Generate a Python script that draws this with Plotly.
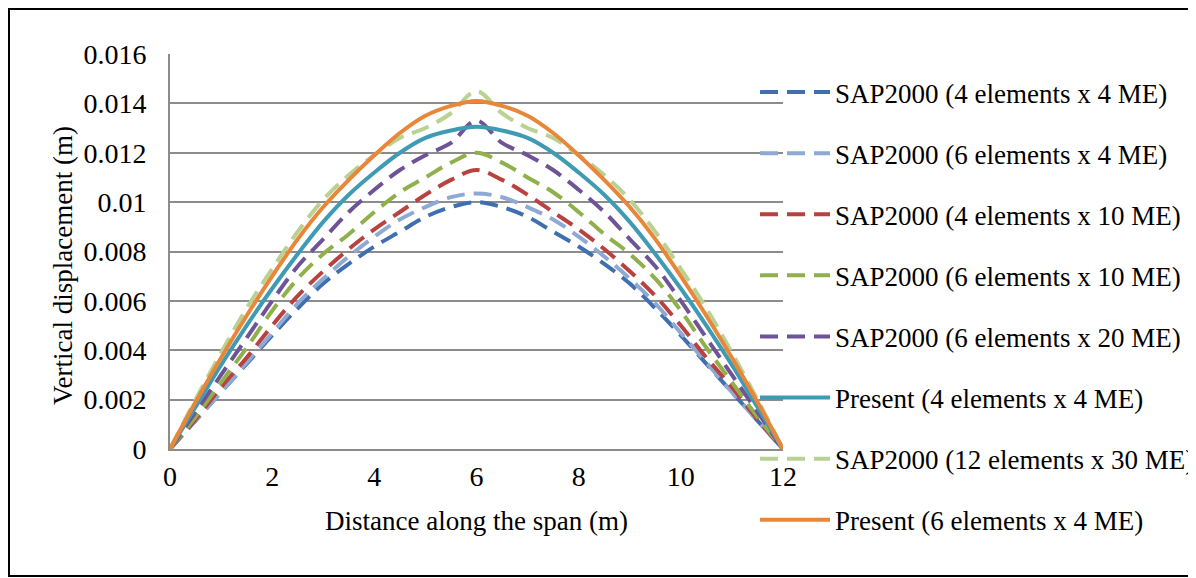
import plotly.graph_objects as go

# Distance along the span (m)
x_m = [0, 0.5, 1, 1.5, 2, 2.5, 3, 3.5, 4, 4.5, 5, 5.5, 6,
       6.5, 7, 7.5, 8, 8.5, 9, 9.5, 10, 10.5, 11, 11.5, 12]

sap_4e_4me = [0, 0.00115, 0.0023, 0.00345, 0.0046, 0.0057, 0.0067, 0.0075, 0.0082, 0.0088, 0.0094, 0.0098, 0.0100,
              0.0098, 0.0094, 0.0088, 0.0082, 0.0075, 0.0067, 0.0057, 0.0046, 0.00345, 0.0023, 0.00115, 0]
sap_6e_4me = [0, 0.00115, 0.0023, 0.0035, 0.0047, 0.0059, 0.0069, 0.0078, 0.0086, 0.0093, 0.0098, 0.0102, 0.01035,
              0.0102, 0.0098, 0.0093, 0.0086, 0.0078, 0.0069, 0.0059, 0.0047, 0.0035, 0.0023, 0.00115, 0]
sap_4e_10me = [0, 0.0012, 0.0025, 0.0037, 0.0050, 0.0062, 0.0072, 0.0081, 0.0089, 0.0096, 0.0103, 0.0109, 0.0113,
               0.0109, 0.0103, 0.0096, 0.0089, 0.0081, 0.0072, 0.0062, 0.0050, 0.0037, 0.0025, 0.0012, 0]
sap_6e_10me = [0, 0.0013, 0.0027, 0.0041, 0.0056, 0.0069, 0.0079, 0.0087, 0.0096, 0.0104, 0.0110, 0.0116, 0.0120,
               0.0116, 0.0110, 0.0104, 0.0096, 0.0087, 0.0079, 0.0069, 0.0056, 0.0041, 0.0027, 0.0013, 0]
sap_6e_20me = [0, 0.0015, 0.0030, 0.0045, 0.0060, 0.0074, 0.0085, 0.0096, 0.0105, 0.0113, 0.0119, 0.0124, 0.0133,
               0.0124, 0.0119, 0.0113, 0.0105, 0.0096, 0.0085, 0.0074, 0.0060, 0.0045, 0.0030, 0.0015, 0]
present_4e_4me = [0, 0.0017, 0.0034, 0.0050, 0.0065, 0.0079, 0.0092, 0.0103, 0.0112, 0.0120, 0.0126, 0.0129, 0.01305,
                  0.0129, 0.0126, 0.0120, 0.0112, 0.0103, 0.0092, 0.0079, 0.0065, 0.0050, 0.0034, 0.0017, 0]
sap_12e_30me = [0, 0.0020, 0.0039, 0.0057, 0.0073, 0.0088, 0.0101, 0.0111, 0.0119, 0.0126, 0.0130, 0.0136, 0.0145,
                0.0136, 0.0130, 0.0126, 0.0119, 0.0111, 0.0101, 0.0088, 0.0073, 0.0057, 0.0039, 0.0020, 0]
present_6e_4me = [0, 0.0019, 0.0037, 0.0054, 0.0070, 0.0085, 0.0098, 0.0109, 0.0119, 0.0128, 0.0135, 0.0139, 0.0141,
                  0.0139, 0.0135, 0.0128, 0.0119, 0.0109, 0.0098, 0.0085, 0.0070, 0.0054, 0.0037, 0.0019, 0]

series_names = [
    "SAP2000 (4 elements x 4 ME)",
    "SAP2000 (6 elements x 4 ME)",
    "SAP2000 (4 elements x 10 ME)",
    "SAP2000 (6 elements x 10 ME)",
    "SAP2000 (6 elements x 20 ME)",
    "Present (4 elements x 4 ME)",
    "SAP2000 (12 elements x 30 ME)",
    "Present (6 elements x 4 ME)",
]
series_values = [sap_4e_4me, sap_6e_4me, sap_4e_10me, sap_6e_10me,
                 sap_6e_20me, present_4e_4me, sap_12e_30me, present_6e_4me]
series_colors = ["#3F6FAE", "#8EA9D3", "#B8423F", "#8FB04A",
                 "#6E5497", "#3F9BB4", "#B9D291", "#E8873A"]
series_dash = ["18px,9px", "18px,9px", "18px,9px", "18px,9px",
               "18px,9px", "solid", "18px,9px", "solid"]

y_tickvals = [0, 0.002, 0.004, 0.006, 0.008, 0.010, 0.012, 0.014, 0.016]
y_ticktext = ["0", "0.002", "0.004", "0.006", "0.008", "0.01", "0.012", "0.014", "0.016"]
x_tickvals = [0, 2, 4, 6, 8, 10, 12]

FONT = "Liberation Serif, Times New Roman, serif"
FS = 27
TFS = 28

fig = go.Figure()
for i, (name, vals, col, dash) in enumerate(zip(series_names, series_values, series_colors, series_dash)):
    fig.add_trace(go.Scatter(
        x=x_m, y=vals, mode="lines", name=name, legendgroup=f"g{i}",
        line=dict(color=col, width=4, dash=dash, shape="spline", smoothing=1.0),
    ))

# page offset (browser body margin)
OFF = 8
W, H = 1188, 570
L, T = 170 - OFF, 54 - OFF
pw, ph = 783 - 170, 449 - 54
R = W - L - pw
B = H - T - ph

def px(xpage):
    return (xpage - OFF - L) / pw

def py(ypage):
    return (T + ph - (ypage - OFF)) / ph

fig.update_layout(
    width=W, height=H,
    margin=dict(l=L, r=R, t=T, b=B, pad=0, autoexpand=False),
    paper_bgcolor="white", plot_bgcolor="white",
    font=dict(family=FONT, size=FS, color="black"),
    showlegend=True,
    legend=dict(
        x=px(755), y=py(68), xanchor="left", yanchor="top",
        bgcolor="rgba(0,0,0,0)", font=dict(family=FONT, size=FS, color="black"),
        tracegroupgap=23, itemwidth=70, traceorder="grouped", maxheight=560,
    ),
    xaxis=dict(
        range=[0, 12], tickvals=x_tickvals, showgrid=False, zeroline=False,
        showline=True, linecolor="#8C8C8C", linewidth=2,
        ticks="outside", ticklen=1, tickcolor="rgba(0,0,0,0)",
        tickfont=dict(family=FONT, size=TFS, color="black"),
    ),
    yaxis=dict(
        range=[0, 0.016], tickvals=y_tickvals, ticktext=y_ticktext,
        showgrid=True, gridcolor="#8C8C8C", gridwidth=2, zeroline=False,
        showline=True, linecolor="#8C8C8C", linewidth=2,
        ticks="outside", ticklen=16, tickcolor="rgba(0,0,0,0)",
        tickfont=dict(family=FONT, size=TFS, color="black"),
    ),
    annotations=[
        dict(text="Vertical displacement (m)", xref="paper", yref="paper",
             x=px(63), y=py(266), textangle=-90, showarrow=False,
             font=dict(family=FONT, size=FS, color="black"),
             xanchor="center", yanchor="middle"),
        dict(text="Distance along the span (m)", xref="paper", yref="paper",
             x=px(476), y=py(521), showarrow=False,
             font=dict(family=FONT, size=FS, color="black"),
             xanchor="center", yanchor="middle"),
    ],
    shapes=[
        dict(type="rect", xref="paper", yref="paper",
             x0=px(9), x1=px(1193), y0=py(576), y1=py(9),
             line=dict(color="black", width=2), fillcolor="rgba(0,0,0,0)", layer="below"),
    ],
)

fig.write_html("out.html")
